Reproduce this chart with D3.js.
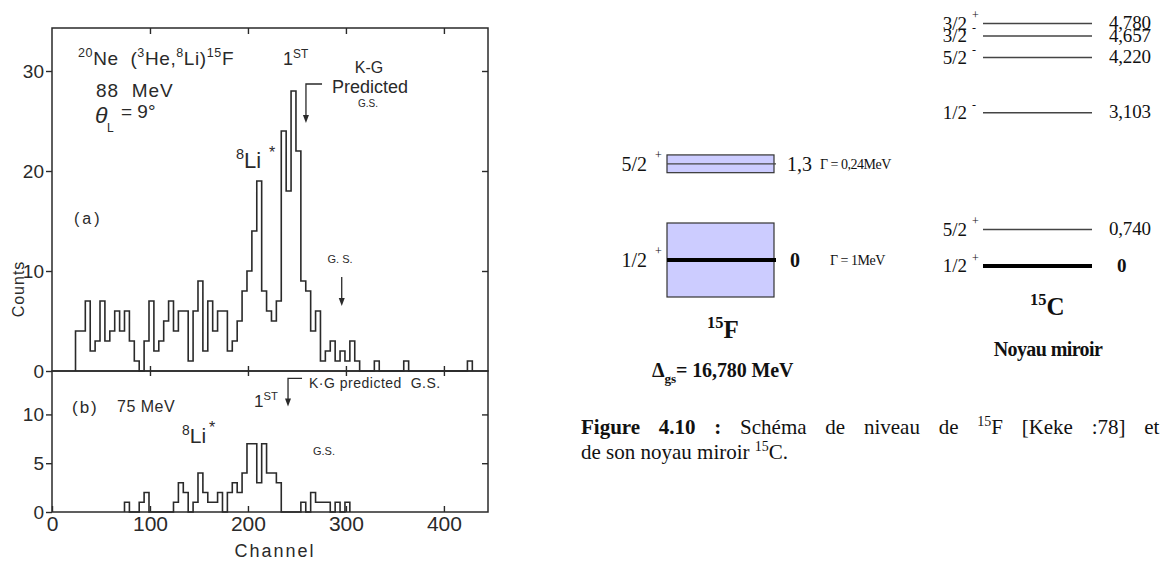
<!DOCTYPE html>
<html><head><meta charset="utf-8">
<script src="https://cdn.jsdelivr.net/npm/d3@7"></script>
<style>
body{margin:0;background:#fff;}
svg{display:block;}
text{white-space:pre;}
</style></head><body>
<svg id="c" width="1171" height="565"></svg>
<script>
// ---------- DATA ----------
const binWidth = 5;                 // channels per bin
const binStartA = 24;               // panel (a) first bin channel
const countsA = [4,4,7,2,3,7,3,4,6,4,6,3,1,0,3,7,2,3,5,7,4,6,6,1,6,9,2,7,4,6,6,2,3,5,8,10,14,19,8,6,5,7,24,18,28,22,9,8,4,6,1,2,3,1,2,1,3,1,0,0,0,1,0,0,0,0,0,1,0,0,0,0,0,0,0,0,0,0,0,0,1];
const binStartB = 74;               // panel (b) first bin channel
const countsB = [1,0,0,1,2,0,0,0,0,0,1,3,2,0,1,4,2,1,1,2,0,2,3,2,4,7,7,3,7,4,4,3,0,0,0,0,1,0,2,1,1,1,0,1,0,1];
const xTicks = [0,100,200,300,400];
const yTicksA = [0,10,20,30];
const yTicksB = [0,5,10];

// 15F levels
const fSpin = ["1/2","5/2"];
const fParity = ["+","+"];
const fEnergy = [0, 1.3];
const fWidth = [1, 0.24];
const fLabel = ["0","1,3"];
const fGamma = ["\u0393 = 1MeV","\u0393 = 0,24MeV"];
// 15C levels
const cSpin = ["1/2","5/2","1/2","5/2","3/2","3/2"];
const cParity = ["+","+","-","-","-","+"];
const cEnergy = [0, 0.740, 3.103, 4.220, 4.657, 4.780];
const cLabel = ["0","0,740","3,103","4,220","4,657","4,780"];

// ---------- DRAW ----------
const svg = d3.select("#c");
const ink = "#2a2a2a";
const sans = "'Liberation Sans', Arial, sans-serif";
const serif = "'Liberation Serif', 'Times New Roman', serif";

const x = d3.scaleLinear().domain([0,445]).range([52,488]);
const yA = d3.scaleLinear().domain([0,34.3]).range([371,28]);
const yB = d3.scaleLinear().domain([0,14.45]).range([512,371]);

const L = svg.append("g").attr("font-family", sans).attr("fill", ink);

// frames
L.append("rect").attr("x",x(0)).attr("y",yA(34.3)).attr("width",x(445)-x(0)).attr("height",yA(0)-yA(34.3))
  .attr("fill","none").attr("stroke",ink).attr("stroke-width",1.5);
L.append("rect").attr("x",x(0)).attr("y",yB(14.45)).attr("width",x(445)-x(0)).attr("height",yB(0)-yB(14.45))
  .attr("fill","none").attr("stroke",ink).attr("stroke-width",1.5);

function styleAxis(g, fs){
  g.select(".domain").remove();
  g.selectAll("line").attr("stroke",ink).attr("stroke-width",1.4);
  g.selectAll("text").attr("fill",ink).attr("font-size",fs).attr("font-family",sans);
}
L.append("g").attr("transform",`translate(${x(0)},0)`).call(d3.axisLeft(yA).tickValues(yTicksA).tickSize(6).tickPadding(2)).call(g=>styleAxis(g,19));
L.append("g").attr("transform",`translate(${x(0)},0)`).call(d3.axisLeft(yB).tickValues(yTicksB).tickSize(6).tickPadding(2)).call(g=>styleAxis(g,19));
L.append("g").attr("transform",`translate(${x(445)},0)`).call(d3.axisRight(yA).tickValues(yTicksA.slice(1)).tickSize(-6).tickFormat("")).call(g=>styleAxis(g,1));
L.append("g").attr("transform",`translate(${x(445)},0)`).call(d3.axisRight(yB).tickValues(yTicksB.slice(1)).tickSize(-6).tickFormat("")).call(g=>styleAxis(g,1));
L.append("g").attr("transform",`translate(0,${yA(34.3)})`).call(d3.axisTop(x).tickValues(xTicks.slice(1)).tickSize(-6).tickFormat("")).call(g=>styleAxis(g,1));
L.append("g").attr("transform",`translate(0,${yA(0)+5})`).call(d3.axisTop(x).tickValues(xTicks.slice(1)).tickSize(10).tickFormat("")).call(g=>styleAxis(g,1));
L.append("g").attr("transform",`translate(0,${yB(0)})`).call(d3.axisBottom(x).tickValues(xTicks).tickSize(-6).tickPadding(4)).call(g=>styleAxis(g,21));

// histograms
function stepPoints(start, counts){
  const pts=[[start,0]];
  counts.forEach((c,i)=>pts.push([start+i*binWidth,c]));
  const end=start+counts.length*binWidth;
  pts.push([end,counts[counts.length-1]]);
  pts.push([end,0]);
  return pts;
}
L.append("path").attr("d", d3.line().x(d=>x(d[0])).y(d=>yA(d[1])).curve(d3.curveStepAfter)(stepPoints(binStartA,countsA)))
  .attr("fill","none").attr("stroke",ink).attr("stroke-width",1.6);
L.append("path").attr("d", d3.line().x(d=>x(d[0])).y(d=>yB(d[1])).curve(d3.curveStepAfter)(stepPoints(binStartB,countsB)))
  .attr("fill","none").attr("stroke",ink).attr("stroke-width",1.6);

// axis titles
L.append("text").attr("transform","translate(24,289) rotate(-90)").attr("text-anchor","middle")
  .attr("font-size",16).attr("letter-spacing",1).text("Counts");
L.append("text").attr("x",275).attr("y",557).attr("text-anchor","middle")
  .attr("font-size",18).attr("letter-spacing",2).text("Channel");

function supText(g, xx, yy, parts, fs){
  const t = g.append("text").attr("x",xx).attr("y",yy).attr("font-size",fs);
  parts.forEach(p=>{
    const s = t.append("tspan").text(p[0]);
    if(p[1]==="sup") s.attr("font-size",fs*0.66).attr("dy",-fs*0.4);
    else if(p[1]==="back") s.attr("dy",fs*0.4);
    else if(p[1]==="sub") s.attr("font-size",fs*0.66).attr("dy",fs*0.3);
    else if(p[1]==="unsub") s.attr("dy",-fs*0.3);
  });
  return t;
}
// annotations panel (a)
supText(L,78,65,[["20","sup"],["Ne  (","back"],["3","sup"],["He,","back"],["8","sup"],["Li)","back"],["15","sup"],["F","back"]],19).attr("letter-spacing",0.6);
L.append("text").attr("x",96).attr("y",97).attr("font-size",19).attr("letter-spacing",1).text("88  MeV");
L.append("text").attr("x",95).attr("y",123).attr("font-size",23).attr("font-style","italic").text("\u03b8");
L.append("text").attr("x",107).attr("y",132).attr("font-size",12).text("L");
L.append("text").attr("x",121).attr("y",118).attr("font-size",19).text("= 9\u00b0");
L.append("text").attr("x",74).attr("y",224).attr("font-size",16).attr("letter-spacing",3).text("(a)");
supText(L,236,168,[["8","sup"],["Li","back"]],22);
L.append("text").attr("x",269).attr("y",158).attr("font-size",16).text("*");
supText(L,283,65,[["1",""],["ST","sup"]],18);
L.append("text").attr("x",369).attr("y",73).attr("font-size",16).attr("text-anchor","middle").text("K-G");
L.append("text").attr("x",370).attr("y",93).attr("font-size",18).attr("text-anchor","middle").text("Predicted");
L.append("text").attr("x",368).attr("y",107).attr("font-size",10).attr("text-anchor","middle").text("G.S.");
L.append("text").attr("x",340).attr("y",263).attr("font-size",11).attr("text-anchor","middle").text("G. S.");

function arrow(g, pts, tip){
  g.append("path").attr("d", d3.line()(pts)).attr("fill","none").attr("stroke",ink).attr("stroke-width",1.3);
  g.append("path").attr("d", `M${tip[0]-3},${tip[1]-8}L${tip[0]+3},${tip[1]-8}L${tip[0]},${tip[1]}Z`).attr("fill",ink);
}
arrow(L, [[x(275.6),yA(28.7)],[x(259.2),yA(28.7)],[x(259.2),yA(25.2)]], [x(259.2),yA(24.8)]);
arrow(L, [[x(295.7),yA(9.4)],[x(295.7),yA(6.8)]], [x(295.7),yA(6.5)]);

// annotations panel (b)
L.append("text").attr("x",72).attr("y",413).attr("font-size",17).attr("letter-spacing",2).text("(b)");
L.append("text").attr("x",117).attr("y",412).attr("font-size",16).attr("letter-spacing",0.5).text("75 MeV");
supText(L,182,443,[["8","sup"],["Li","back"]],21);
L.append("text").attr("x",209).attr("y",433).attr("font-size",16).text("*");
supText(L,254,407,[["1",""],["ST","sup"]],17);
L.append("text").attr("x",309).attr("y",388).attr("font-size",14).attr("letter-spacing",0.5).text("K\u00b7G predicted  G.S.");
L.append("text").attr("x",313).attr("y",455).attr("font-size",11).text("G.S.");
arrow(L, [[x(255.2),yB(13.7)],[x(240.9),yB(13.7)],[x(240.9),yB(11.1)]], [x(240.9),yB(10.8)]);

// ---------- level scheme ----------
const R = svg.append("g").attr("font-family", serif).attr("fill","#111");
const fx0 = 667, fx1 = 774;
const eF = d3.scaleLinear().domain([0,1]).range([260,186]);
fEnergy.forEach((E,i)=>{
  const top = eF(E + fWidth[i]/2), bot = eF(E - fWidth[i]/2);
  R.append("rect").attr("x",fx0).attr("y",top).attr("width",fx1-fx0).attr("height",bot-top)
    .attr("fill","#ccccff").attr("stroke","#333").attr("stroke-width",1.2);
  R.append("line").attr("x1",fx0).attr("x2",fx1+2).attr("y1",eF(E)).attr("y2",eF(E))
    .attr("stroke", E===0 ? "#000" : "#444").attr("stroke-width", E===0 ? 4 : 1.3);
  R.append("text").attr("x",fx0-20).attr("y",eF(E)).attr("dy","0.35em").attr("text-anchor","end").attr("font-size",20).text(fSpin[i]);
  R.append("text").attr("x",fx0-12).attr("y",eF(E)-5).attr("font-size",12).text(fParity[i]);
  R.append("text").attr("x",fx1 + (E===0?16:13)).attr("y",eF(E)).attr("dy","0.35em").attr("font-size",20)
    .attr("font-weight",E===0?"bold":"normal").text(fLabel[i]);
  R.append("text").attr("x",fx1 + (E===0?56:46)).attr("y",eF(E)+ 5).attr("font-size",14).attr("letter-spacing",-0.5).text(fGamma[i]);
});
supText(R, 707, 338, [["15","sup"],["F","back"]], 25).attr("font-weight","bold");
supText(R, 652, 377, [["\u0394",""],["gs","sub"],["= 16,780 MeV","unsub"]], 20).attr("font-weight","bold").attr("letter-spacing",-0.1);

const cx0 = 983, cx1 = 1092;
const eC = d3.scaleLinear().domain([0,1]).range([266,216.6]);
// level positions: linear energy scale, with a minimum spacing so close levels stay readable
const levelY = [];
cEnergy.forEach((E,i)=>{ const yy = eC(E); levelY.push(i===0 ? yy : Math.min(yy, levelY[i-1]-12.5)); });
cEnergy.forEach((E,i)=>{
  R.append("line").attr("x1",cx0).attr("x2",cx1).attr("y1",levelY[i]).attr("y2",levelY[i])
    .attr("stroke", E===0 ? "#000" : "#444").attr("stroke-width", E===0 ? 4 : 1.4);
  R.append("text").attr("x",cx0-16).attr("y",levelY[i]).attr("dy","0.33em").attr("text-anchor","end").attr("font-size",19).text(cSpin[i]);
  R.append("text").attr("x",cx0-11).attr("y",levelY[i]-4).attr("font-size",12).text(cParity[i]);
  R.append("text").attr("x",cx1 + (E===0?25:17)).attr("y",levelY[i]).attr("dy","0.3em").attr("font-size",19)
    .attr("font-weight",E===0?"bold":"normal").attr("letter-spacing",-0.2).text(cLabel[i]);
});
supText(R, 1030, 315, [["15","sup"],["C","back"]], 25).attr("font-weight","bold");
R.append("text").attr("x",1048).attr("y",356).attr("text-anchor","middle").attr("font-size",20).attr("font-weight","bold").attr("letter-spacing",-0.6).text("Noyau miroir");

// caption (first line justified)
const cap = R.append("text").attr("x",581).attr("y",434).attr("font-size",21).attr("word-spacing",13.5);
cap.append("tspan").attr("font-weight","bold").text("Figure 4.10 :");
cap.append("tspan").text(" Sch\u00e9ma de niveau de ");
cap.append("tspan").attr("font-size",14).attr("dy",-8).text("15");
cap.append("tspan").attr("dy",8).text("F [Keke :78] et");
const cap2 = R.append("text").attr("x",581).attr("y",459).attr("font-size",21);
cap2.append("tspan").text("de son noyau miroir ");
cap2.append("tspan").attr("font-size",14).attr("dy",-8).text("15");
cap2.append("tspan").attr("dy",8).text("C.");
</script>
</body></html>
